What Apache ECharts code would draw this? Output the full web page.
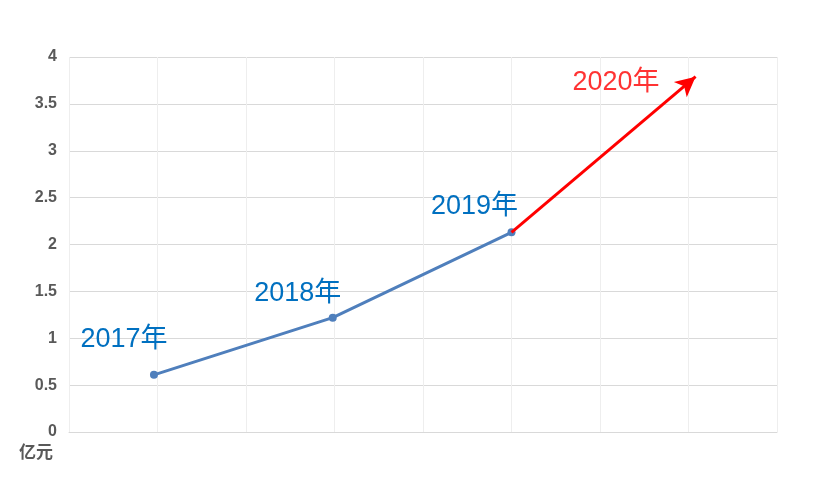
<!DOCTYPE html>
<html>
<head>
<meta charset="utf-8">
<script src="https://cdn.jsdelivr.net/npm/echarts@6/dist/echarts.min.js"></script>
<style>
  html, body { margin: 0; padding: 0; background: #fff; }
  #chart { width: 814px; height: 478px; }
</style>
</head>
<body>
<div id="chart"></div>
<script>
"use strict";

/*****Data*****/
var years = ['2017年', '2018年', '2019年'];
var yearPos = [0.96, 2.98, 5];
var amounts = [0.61, 1.22, 2.13];
var forecastYear = '2020年';
var forecastPos = 7.08;
var forecastAmount = 3.79;
var yTicks = [0, 0.5, 1, 1.5, 2, 2.5, 3, 3.5, 4];

/*****Label layout*****/
var labelOffsets = [[-30, -13], [-35, -2], [-37, -3]];

var chart = echarts.init(document.getElementById('chart'));

var points = [];
for (var i = 0; i < years.length; i++) {
	points.push({
		value: [yearPos[i], amounts[i]],
		label: { offset: labelOffsets[i] }
	});
}

var option = {
	animation: false,
	grid: { left: 69, right: 37, top: 57, bottom: 46 },
	xAxis: {
		type: 'value',
		min: 0,
		max: 8,
		interval: 1,
		axisLabel: { show: false },
		axisTick: { show: false },
		axisLine: { show: true, lineStyle: { color: '#d9d9d9', width: 1 } },
		splitLine: { show: true, lineStyle: { color: '#eeeeee', width: 1 } }
	},
	yAxis: {
		type: 'value',
		min: yTicks[0],
		max: yTicks[yTicks.length - 1],
		interval: 0.5,
		axisLine: { show: false },
		axisTick: { show: false },
		axisLabel: {
			color: '#595959',
			fontWeight: 'bold',
			fontSize: 16,
			margin: 12,
			fontFamily: "'Liberation Sans', Arial, sans-serif"
		},
		splitLine: { lineStyle: { color: '#d9d9d9', width: 1 } }
	},
	graphic: [{
		type: 'text',
		left: 19,
		top: 443,
		style: {
			text: '亿元',
			fill: '#595959',
			font: "bold 17px 'Noto Sans CJK SC', sans-serif"
		}
	}],
	series: [
		{
			type: 'line',
			data: points,
			symbol: 'circle',
			symbolSize: 8,
			itemStyle: { color: '#4f7fbc' },
			lineStyle: { color: '#4f7fbc', width: 3 },
			label: {
				show: true,
				position: 'top',
				color: '#0070c0',
				fontSize: 27,
				fontFamily: "'Liberation Sans', Arial, 'Noto Sans CJK SC', sans-serif",
				formatter: function (p) { return years[p.dataIndex]; }
			},
			markLine: {
				silent: true,
				symbol: ['none', 'arrow'],
				symbolSize: [15, 20],
				lineStyle: { color: '#ff0000', width: 3, type: 'solid' },
				label: { show: false },
				data: [[
					{ coord: [yearPos[2], amounts[2]] },
					{ coord: [forecastPos, forecastAmount] }
				]]
			},
			z: 3
		},
		{
			type: 'scatter',
			data: [[forecastPos, forecastAmount]],
			symbolSize: 0,
			label: {
				show: true,
				position: 'left',
				offset: [-31, 6],
				color: '#ff0000',
				fontSize: 27,
				fontFamily: "'Liberation Sans', Arial, 'Noto Sans CJK SC', sans-serif",
				formatter: forecastYear
			}
		}
	]
};

chart.setOption(option);
</script>
</body>
</html>
